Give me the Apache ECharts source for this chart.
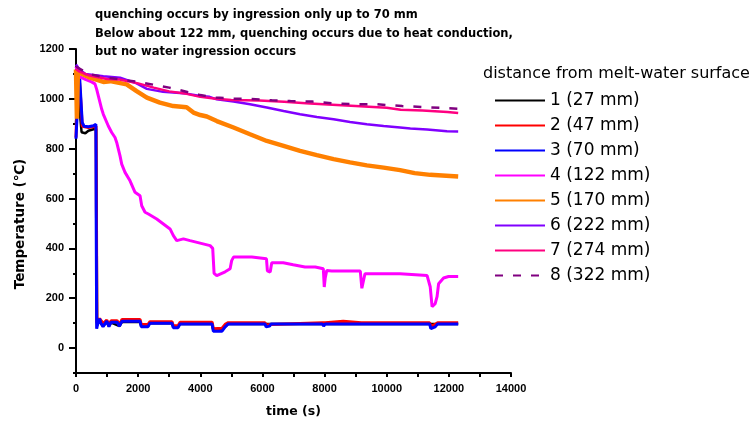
<!DOCTYPE html>
<html>
<head>
<meta charset="utf-8">
<script src="https://cdn.jsdelivr.net/npm/echarts@6/dist/echarts.min.js"></script>
<style>
  html, body { margin: 0; padding: 0; background: #fff; }
  #chart { width: 756px; height: 425px; }
</style>
</head>
<body>
<div id="chart"></div>
<script>
// Thermocouple readings: [time (s), temperature (°C)]
const s1 = [[0,900],[40,1020],[80,1050],[120,950],[180,866],[300,862],[400,872],[560,878],[645,880],[655,681],[662,558],[680,92],[760,110],[870,88],[990,105],[1060,88],[1130,102],[1400,88],[1480,105],[2060,105],[2100,88],[2320,88],[2380,100],[3090,100],[3130,85],[3285,85],[3350,97],[4380,97],[4420,72],[4700,74],[4900,97],[6080,97],[6120,90],[6250,97],[12300,97]];
const s2 = [[0,845],[50,1080],[100,1090],[150,1000],[200,890],[400,885],[645,890],[655,566],[660,510],[670,100],[700,105],[760,118],[820,108],[870,98],[990,112],[1060,95],[1130,110],[1320,110],[1400,95],[1480,115],[2060,115],[2100,95],[2320,95],[2380,106],[3090,106],[3130,90],[3285,90],[3350,104],[4380,104],[4420,78],[4700,80],[4800,95],[4900,102],[6080,102],[6120,92],[6230,95],[6280,102],[7930,102],[7970,96],[8020,102],[8600,108],[8650,102],[9180,102],[9210,96],[9260,102],[11380,102],[11420,88],[11560,95],[11640,102],[12300,102]];
const s3 = [[0,840],[60,1000],[120,1080],[170,1080],[200,905],[260,890],[400,888],[560,892],[640,898],[650,507],[665,78],[700,98],[760,118],[800,100],[870,86],[990,108],[1060,86],[1130,104],[1320,104],[1400,88],[1480,108],[2060,108],[2100,86],[2320,86],[2380,100],[3090,100],[3130,82],[3285,82],[3350,97],[4380,97],[4420,68],[4700,68],[4800,85],[4900,97],[6080,97],[6120,85],[6230,88],[6280,97],[7930,97],[7970,88],[8020,97],[9180,97],[9210,90],[9260,97],[10620,97],[10650,92],[10700,97],[11380,97],[11420,78],[11560,85],[11640,97],[12300,97]];
const s4 = [[0,1130],[100,1090],[300,1078],[500,1068],[610,1060],[666,1038],[828,958],[880,938],[1040,891],[1149,865],[1256,845],[1310,825],[1417,771],[1471,738],[1578,705],[1739,671],[1900,625],[2061,611],[2115,571],[2222,545],[2330,538],[2598,518],[2813,498],[3027,478],[3134,451],[3242,431],[3457,438],[3671,431],[4316,411],[4400,400],[4444,300],[4530,291],[4800,306],[4960,318],[5010,351],[5070,365],[5660,365],[5700,358],[6130,358],[6160,310],[6250,305],[6300,342],[6670,342],[6990,334],[7370,325],[7700,325],[7750,318],[7960,318],[7990,245],[8020,280],[8070,311],[8230,309],[9150,309],[9200,240],[9250,235],[9300,298],[10430,298],[10490,291],[11300,291],[11400,246],[11460,166],[11560,178],[11620,206],[11670,258],[11830,281],[11990,287],[12300,287]];
const s5 = [[0,1118],[30,920],[60,1110],[200,1100],[450,1085],[880,1068],[1100,1071],[1630,1058],[1950,1031],[2280,1005],[2700,985],[3130,971],[3560,966],[3780,945],[4000,935],[4210,929],[4530,911],[5070,885],[5600,858],[6140,831],[6680,811],[7210,791],[7750,774],[8290,758],[8820,745],[9360,733],[9900,724],[10430,714],[10900,702],[11400,695],[12300,688]];
const s6 = [[0,1138],[100,1120],[300,1100],[880,1091],[1420,1085],[1950,1062],[2280,1040],[2800,1028],[3560,1021],[4000,1011],[4300,1008],[4530,998],[5070,989],[5600,978],[6140,965],[6680,951],[7210,938],[7750,927],[8290,918],[8820,907],[9360,898],[9900,891],[10430,885],[10760,881],[11300,877],[11940,870],[12300,869]];
const s7 = [[0,1120],[100,1110],[400,1095],[1000,1080],[1400,1078],[2000,1062],[2500,1045],[3000,1030],[3560,1020],[4000,1008],[4500,1000],[5000,995],[5900,993],[6700,988],[7400,982],[8100,977],[9000,971],[10000,964],[10450,956],[11150,953],[11950,947],[12300,943]];
const s8 = [[0,1130],[400,1100],[1000,1085],[2000,1068],[3000,1045],[4000,1015],[4500,1005],[5000,1001],[5600,1000],[6300,994],[6900,991],[7600,989],[8300,982],[9000,978],[9700,978],[10500,971],[11200,967],[12000,962],[12300,960]];

const seriesNames = ['1 (27 mm)', '2 (47 mm)', '3 (70 mm)', '4 (122 mm)', '5 (170 mm)', '6 (222 mm)', '7 (274 mm)', '8 (322 mm)'];
const seriesData = [s1, s2, s3, s4, s5, s6, s7, s8];
const seriesColors = ['#000000', '#ff0000', '#0000ff', '#ff00ff', '#ff8000', '#8000ff', '#ff0080', '#800080'];
const seriesWidths = [2.5, 3, 3, 3, 4.5, 2.5, 2.5, 2.5];

const yMajorTicks = [0, 200, 400, 600, 800, 1000, 1200];

const chart = echarts.init(document.getElementById('chart'), null, { renderer: 'canvas' });

const labelFont = { fontFamily: 'Liberation Sans, Arial, sans-serif', fontWeight: 'bold', fontSize: 11, color: '#000' };

chart.setOption({
  animation: false,
  backgroundColor: '#fff',
  title: [{
    text: 'quenching occurs by ingression only up to 70 mm\nBelow about 122 mm, quenching occurs due to heat conduction,\nbut no water ingression occurs',
    left: 95, top: 6, padding: 0,
    textStyle: { fontFamily: 'DejaVu Sans, sans-serif', fontWeight: 'bold', fontSize: 11.5, lineHeight: 18.5, color: '#000' }
  }, {
    text: 'distance from melt-water surface',
    left: 483, top: 66, padding: 0,
    textStyle: { fontFamily: 'DejaVu Sans, sans-serif', fontWeight: 'normal', fontSize: 16, color: '#000' }
  }],
  graphic: [{
    type: 'text',
    x: 20, y: 224, rotation: Math.PI / 2,
    style: {
      text: 'Temperature (\u2103)',
      font: 'bold 13.5px "DejaVu Sans", sans-serif',
      fill: '#000', align: 'center', verticalAlign: 'middle'
    }
  }],
  legend: {
    orient: 'vertical',
    left: 494, top: 92, padding: 0,
    itemWidth: 50, itemHeight: 14, itemGap: 8,
    data: seriesNames,
    itemStyle: { opacity: 0, borderWidth: 0 },
    textStyle: { fontFamily: 'DejaVu Sans, sans-serif', fontSize: 17, color: '#000' },
    selectedMode: false
  },
  grid: { left: 76, right: 245, top: 49, bottom: 52, containLabel: false },
  xAxis: {
    type: 'value', min: 0, max: 14000, interval: 1000,
    name: 'time (s)', nameLocation: 'middle', nameGap: 32,
    nameTextStyle: { fontFamily: 'DejaVu Sans, sans-serif', fontWeight: 'bold', fontSize: 12.5, color: '#000' },
    axisLine: { onZero: false, lineStyle: { color: '#000', width: 2 } },
    axisTick: { length: 4, lineStyle: { color: '#000', width: 2 } },
    axisLabel: Object.assign({ margin: 10, formatter: v => (v % 2000 === 0 ? String(v) : '') }, labelFont),
    splitLine: { show: false }
  },
  yAxis: [{
    type: 'value', min: -100, max: 1200, interval: 100,
    axisLine: { onZero: false, lineStyle: { color: '#000', width: 2 } },
    axisTick: { length: 7, customValues: yMajorTicks, lineStyle: { color: '#000', width: 2 } },
    axisLabel: Object.assign({ margin: 12, customValues: yMajorTicks, formatter: v => String(v) }, labelFont),
    splitLine: { show: false }
  }, {
    type: 'value', min: -100, max: 1200, interval: 100, position: 'left', offset: 0,
    axisLine: { show: false },
    axisTick: { length: 3, lineStyle: { color: '#000', width: 2 } },
    axisLabel: { show: false },
    splitLine: { show: false }
  }],
  series: seriesData.map((d, i) => ({
    name: seriesNames[i],
    type: 'line',
    data: d,
    yAxisIndex: 0,
    symbol: 'none',
    showSymbol: false,
    lineStyle: {
      color: seriesColors[i],
      width: seriesWidths[i],
      type: i === 7 ? [8, 10] : 'solid'
    },
    itemStyle: { color: seriesColors[i] },
    z: 2 + i
  }))
});
</script>
</body>
</html>
